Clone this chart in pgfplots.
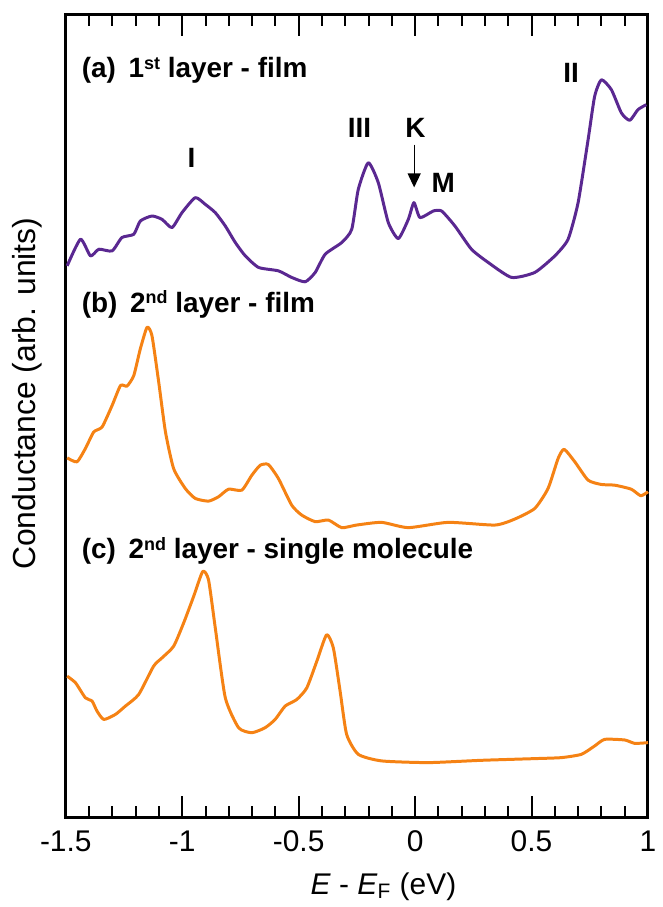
\documentclass[border=0pt]{standalone}
\usepackage{fontspec}
\setmainfont{Liberation Sans}
\usepackage{pgfplots}
\pgfplotsset{compat=1.18}
\usetikzlibrary{arrows.meta}

\definecolor{cpurple}{RGB}{90,40,145}
\definecolor{corange}{RGB}{245,130,20}

\newcommand{\lab}{\fontsize{14bp}{17bp}\selectfont\bfseries}
\newcommand{\supr}[1]{\raisebox{0.55ex}{\fontsize{9bp}{9bp}\selectfont #1}}

\begin{document}
\begin{tikzpicture}
\begin{axis}[
    scale only axis, width=292bp, height=402.5bp,
    xmin=-1.5, xmax=1, ymin=0, ymax=805,
    xtick={-1.5,-1,-0.5,0,0.5,1},
    xticklabels={-1.5,-1,-0.5,0,0.5,1},
    minor x tick num=4,
    ytick=\empty,
    xtick pos=both, tick align=inside,
    major tick length=10.5bp, minor tick length=5.5bp,
    every tick/.style={line width=1bp, black},
    axis line style={line width=1.5bp},
    tick label style={font=\fontsize{15bp}{18bp}\selectfont},
    xticklabel style={yshift=-3bp},
    xlabel={\textit{E} - \textit{E}\textsubscript{F} (eV)},
    xlabel style={font=\fontsize{15bp}{18bp}\selectfont, at={(axis cs:-0.136,-77)}, anchor=base},
    ylabel={Conductance (arb. units)},
    ylabel style={font=\fontsize{16bp}{19bp}\selectfont, at={(axis description cs:-0.067,0.528)}, anchor=center},
    clip=false,
    every axis plot/.append style={line width=1.5bp, line join=round, smooth, tension=0.35},
]
% (a) 1st layer - film
\addplot[cpurple] coordinates {
(-1.494,553.3) (-1.437,580) (-1.394,563.3) (-1.358,570) (-1.301,568.3)
(-1.259,581.7) (-1.208,585) (-1.180,598.3) (-1.130,603.3) (-1.087,600)
(-1.044,591.7) (-1.001,606.7) (-0.944,621.7) (-0.901,615) (-0.858,606.7)
(-0.815,593.3) (-0.772,576.7) (-0.729,563.3) (-0.672,551.7) (-0.587,548.3)
(-0.530,541.7) (-0.472,537.3) (-0.429,546.7) (-0.386,565) (-0.315,576.7)
(-0.272,590) (-0.244,630) (-0.201,656.7) (-0.158,636.7) (-0.115,596.7)
(-0.072,580.7) (-0.029,600) (-0.005,616.7) (0.021,601.7) (0.078,608.3)
(0.114,608.3) (0.171,593.3) (0.242,570) (0.314,556.7) (0.414,541.7)
(0.514,546.7) (0.600,563.3) (0.657,580) (0.700,616.7) (0.743,680)
(0.771,723.3) (0.800,740) (0.843,730) (0.886,706.7) (0.922,699.3)
(0.957,710) (0.993,715)
};
% (b) 2nd layer - film
\addplot[corange] coordinates {
(-1.494,360.7) (-1.452,356.7) (-1.416,370) (-1.380,386.7) (-1.344,391.7)
(-1.301,413.3) (-1.265,433.3) (-1.237,432.7) (-1.208,443.3) (-1.180,470)
(-1.151,491.7) (-1.130,483.3) (-1.101,436.7) (-1.072,386.7) (-1.037,350)
(-0.987,330) (-0.944,320) (-0.887,317.3) (-0.844,321.7) (-0.801,329.3)
(-0.744,328.3) (-0.701,343.3) (-0.665,353.3) (-0.630,354) (-0.587,340)
(-0.530,313.3) (-0.487,303.3) (-0.429,296.7) (-0.372,298.3) (-0.315,290.7)
(-0.251,293.3) (-0.144,296) (-0.029,290.7) (0.142,296) (0.343,293.3)
(0.428,299.3) (0.514,310) (0.571,330) (0.614,360) (0.640,369.3)
(0.686,356.7) (0.743,338.3) (0.800,334) (0.857,333.3) (0.928,329.3)
(0.969,322.7) (1.0,326.7)
};
% (c) 2nd layer - single molecule
\addplot[corange] coordinates {
(-1.494,141.7) (-1.458,135) (-1.416,120) (-1.387,116.7) (-1.366,106.7)
(-1.337,98.3) (-1.287,103.3) (-1.244,111.7) (-1.187,123.3) (-1.123,151.7)
(-1.087,160) (-1.037,171.7) (-0.994,195) (-0.951,221.7) (-0.912,246.7)
(-0.887,238.3) (-0.858,190) (-0.815,120) (-0.758,90) (-0.701,85)
(-0.644,90) (-0.601,98.3) (-0.558,111.7) (-0.508,118.3) (-0.465,130)
(-0.422,156.7) (-0.380,183.3) (-0.351,170) (-0.322,126.7) (-0.294,83.3)
(-0.244,63.3) (-0.144,56.7) (0.057,55) (0.285,57.3) (0.514,59)
(0.628,60) (0.714,63.3) (0.771,71.7) (0.814,78.3) (0.900,77.7)
(0.943,74.3) (1.0,75)
};
% panel labels
\node[anchor=base west, font=\lab] at (axis cs:-1.461,742) {(a)\hspace{0.45em}1\supr{st} layer - film};
\node[anchor=base west, font=\lab] at (axis cs:-1.461,507) {(b)\hspace{0.45em}2\supr{nd} layer - film};
\node[anchor=base west, font=\lab] at (axis cs:-1.461,260) {(c)\hspace{0.45em}2\supr{nd} layer - single molecule};
% peak labels
\node[anchor=base, font=\lab] at (axis cs:-0.960,652) {I};
\node[anchor=base, font=\lab] at (axis cs:-0.239,682) {III};
\node[anchor=base, font=\lab] at (axis cs:0.001,682) {K};
\node[anchor=base, font=\lab] at (axis cs:0.121,627) {M};
\node[anchor=base, font=\lab] at (axis cs:0.670,737) {II};
\draw[line width=0.6bp, -{Triangle[length=7bp,width=6.5bp]}] (axis cs:-0.004,675) -- (axis cs:-0.004,632);
\end{axis}
\path (-33bp,-43.5bp) rectangle (293bp,410bp);
\end{tikzpicture}
\end{document}
